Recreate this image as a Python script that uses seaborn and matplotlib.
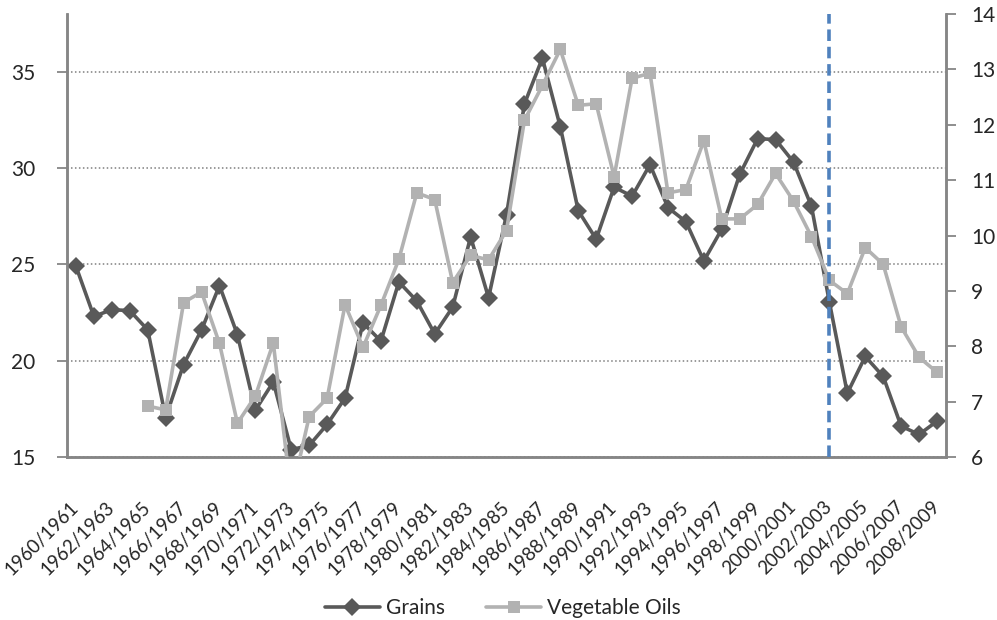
import matplotlib
matplotlib.use("Agg")
import matplotlib.pyplot as plt
from matplotlib.lines import Line2D
import numpy as np
import pandas as pd
import seaborn as sns

# ---- data ----
seasons = [f"{y}/{y+1}" for y in range(1960, 2009)]
grains = [24.9, 22.3, 22.65, 22.6, 21.6, 17.05, 19.8, 21.6, 23.9, 21.35,
          17.43, 18.9, 15.38, 15.6, 16.69, 18.06, 21.96, 21.02, 24.09, 23.1,
          21.39, 22.78, 26.43, 23.27, 27.58, 33.33, 35.71, 32.14, 27.79, 26.31,
          29.01, 28.54, 30.18, 27.95, 27.22, 25.18, 26.83, 29.67, 31.53, 31.48,
          30.31, 28.02, 23.04, 18.31, 20.22, 19.18, 16.6, 16.17, 16.86]
veg_oils = [np.nan, np.nan, np.nan, np.nan, 6.92, 6.85, 8.79, 8.98, 8.05, 6.61,
            7.10, 8.06, 5.3, 6.73, 7.06, 8.75, 7.98, 8.74, 9.57, 10.77,
            10.65, 9.15, 9.64, 9.56, 10.09, 12.08, 12.71, 13.36, 12.35, 12.38,
            11.06, 12.84, 12.93, 10.77, 10.83, 11.71, 10.30, 10.30, 10.56, 11.12,
            10.62, 9.98, 9.19, 8.95, 9.78, 9.48, 8.35, 7.80, 7.53]
marker_season = "2002/2003"
left_ticks = [15, 20, 25, 30, 35]
right_ticks = [6, 7, 8, 9, 10, 11, 12, 13, 14]

df = pd.DataFrame({"idx": np.arange(len(seasons)), "season": seasons,
                   "Grains": grains, "Vegetable Oils": veg_oils})

sns.set_style("white")
plt.rcParams["font.family"] = ["Lato", "DejaVu Sans"]

DARK = "#595959"
LIGHT = "#B2B2B2"
AXC = "#868686"

fig = plt.figure(figsize=(9.97, 6.2), dpi=100)
ax = fig.add_axes([67/997, 1-457/620, (946-67)/997, (457-14)/620])
ax2 = ax.twinx()

sns.lineplot(data=df, x="idx", y="Grains", ax=ax, color=DARK, marker="D",
             markersize=9, markeredgewidth=0, linewidth=2.6, legend=False, zorder=3)
sns.lineplot(data=df.dropna(), x="idx", y="Vegetable Oils", ax=ax2, color=LIGHT, marker="s",
             markersize=9, markeredgewidth=0, linewidth=2.6, legend=False, zorder=3)

n = len(seasons)
ax.set_xlim(-0.5, n - 0.5)
ax.set_ylim(15, 38)
ax2.set_ylim(6, 14)

ax.set_yticks(left_ticks)
ax2.set_yticks(right_ticks)
ax.set_xticks(np.arange(0, n, 2))
ax.set_xticklabels(seasons[::2], rotation=45, ha="right", va="center",
                   rotation_mode="anchor", fontsize=13.5)
ax.set_xticks(np.arange(-0.5, n, 1), minor=True)
ax.tick_params(axis="x", which="major", length=0, pad=34)
ax.tick_params(axis="x", which="minor", length=6, width=1.3, color=AXC, direction="out")
ax.tick_params(axis="y", which="major", length=7, width=1.3, color=AXC, direction="out",
               labelsize=15, pad=16, left=True)
ax2.tick_params(axis="y", which="major", length=7, width=1.3, color=AXC, direction="out",
                labelsize=15, pad=11, right=True)

ax.set_xlabel("")
ax.set_ylabel("")
ax2.set_ylabel("")

for a in (ax, ax2):
    for s in ("left", "right", "bottom"):
        a.spines[s].set_visible(True)
        a.spines[s].set_color(AXC)
        a.spines[s].set_linewidth(1.8)
    a.spines["top"].set_visible(False)

ax.yaxis.grid(True, linestyle=(0, (1, 1.6)), color="#7f7f7f", linewidth=1.1)
ax.xaxis.grid(False)
ax2.grid(False)
ax.set_axisbelow(True)

xline = seasons.index(marker_season)
ax2.axvline(xline, color="#4F81BD", linestyle=(0, (3.2, 1.6)), linewidth=2.6, zorder=5)

handles = [Line2D([], [], color=DARK, marker="D", markersize=9, markeredgewidth=0, linewidth=2.6),
           Line2D([], [], color=LIGHT, marker="s", markersize=9, markeredgewidth=0, linewidth=2.6)]
fig.legend(handles, ["Grains", "Vegetable Oils"], loc="center", bbox_to_anchor=(503/997, 1-608/620),
           ncol=2, frameon=False, fontsize=15, handlelength=2.6, columnspacing=2.0, handletextpad=0.3)

fig.savefig("out.png", dpi=100)
